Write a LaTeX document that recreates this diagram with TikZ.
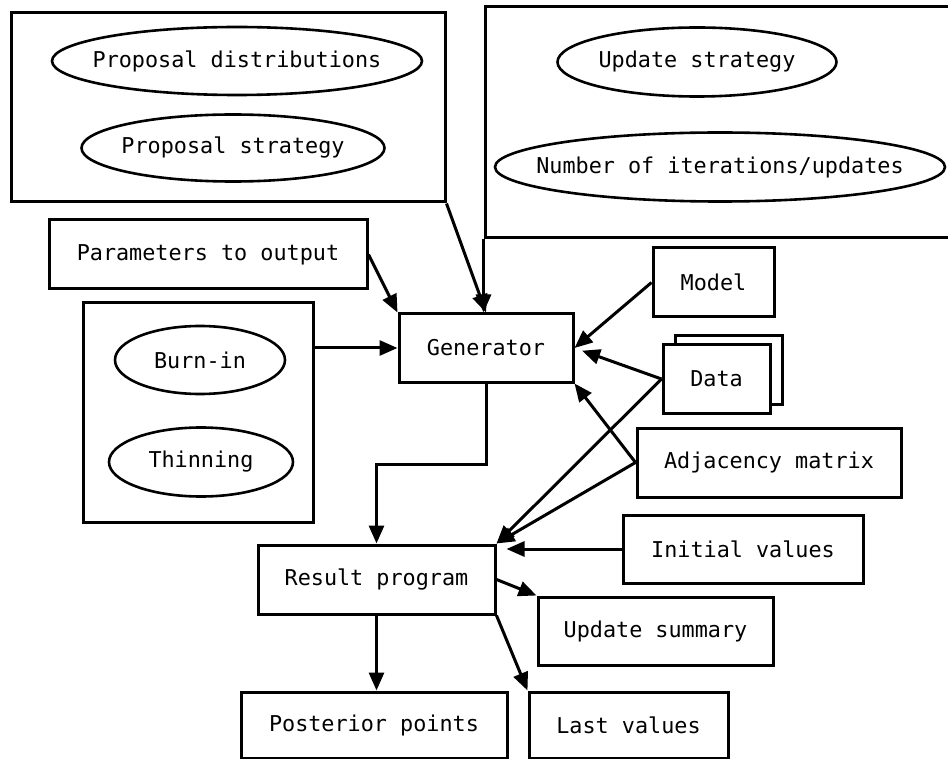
\documentclass[tikz,border=0pt]{standalone}
\usepackage{fontspec}
\setmonofont{DejaVu Sans Mono}
\usetikzlibrary{shapes.geometric,arrows.meta}

\tikzset{
  lbl/.style={font=\ttfamily\fontsize{21.8}{26}\selectfont},
  box/.style={lbl, draw, line width=3pt, rectangle, inner sep=0pt, fill=white},
  grp/.style={draw, line width=3pt, rectangle, inner sep=0pt},
  oval/.style={draw, line width=2.6pt, ellipse, inner sep=0pt},
  ovaltext/.style={label={[lbl, inner sep=0pt]center:#1}},
  arr/.style={line width=3pt, -{Triangle[length=18pt,width=15pt]}},
}

\begin{document}
\begin{tikzpicture}[x=1pt, y=-1pt]
\useasboundingbox (0,0) rectangle (948,759);

% proposal group
\node[grp, minimum width=434pt, minimum height=189pt] (propgrp) at (228,107.5) {};
\node[oval, minimum width=370pt, minimum height=68pt, ovaltext={Proposal distributions}] (propdist) at (237,61) {};
\node[oval, minimum width=303pt, minimum height=67pt, ovaltext={Proposal strategy}] (propstrat) at (233,148) {};

% update group (runs past the right edge)
\node[grp, minimum width=483pt, minimum height=231pt] (updgrp) at (726.5,122.5) {};
\node[oval, minimum width=279pt, minimum height=69pt, ovaltext={Update strategy}] (updstrat) at (697,62) {};
\node[oval, minimum width=450pt, minimum height=69pt, ovaltext={Number of iterations/updates}] (niter) at (720,167) {};

% output parameters
\node[box, minimum width=318pt, minimum height=69pt] (params) at (208,254.5) {Parameters to output};

% burn-in / thinning group
\node[grp, minimum width=230pt, minimum height=219pt] (burngrp) at (198,412.5) {};
\node[oval, minimum width=170pt, minimum height=68pt, ovaltext={Burn-in}] (burnin) at (200,360) {};
\node[oval, minimum width=184pt, minimum height=69pt, ovaltext={Thinning}] (thin) at (201,462) {};

% generator and its inputs
\node[box, minimum width=174pt, minimum height=68pt] (gen) at (486,348) {Generator};
\node[box, minimum width=121pt, minimum height=69pt] (model) at (713.5,282.5) {Model};
\node[box, minimum width=107pt, minimum height=68pt] (databack) at (728.5,370) {};
\node[box, minimum width=107pt, minimum height=68pt] (data) at (716.5,379) {Data};
\node[box, minimum width=264pt, minimum height=69pt] (adj) at (769,462.5) {Adjacency matrix};
\node[box, minimum width=240pt, minimum height=68pt] (init) at (743,549) {Initial values};

% result program and outputs
\node[box, minimum width=237pt, minimum height=69pt] (res) at (376.5,579.5) {Result program};
\node[box, minimum width=235pt, minimum height=68pt] (updsum) at (655.5,631) {Update summary};
\node[box, minimum width=266pt, minimum height=66pt] (post) at (374,725) {Posterior points};
\node[box, minimum width=199pt, minimum height=66pt] (last) at (628.5,725) {Last values};

\coordinate (updcorner) at (updgrp.south west);
\coordinate (bend) at (0,464);

% connectors into the generator
\draw[arr] (propgrp.south east) -- (gen.north);
\draw[arr] (updcorner) -- (updcorner |- gen.north);
\draw[arr] (params.east) -- (gen.north west);
\draw[arr] (burngrp.east |- gen.west) -- (gen.west);
\draw[arr] (model.west) -- (gen.east);
\draw[arr, shorten >=8pt] (data.west) -- (gen.east);
\draw[arr] (adj.west) -- (gen.south east);

% connectors into the result program
\draw[arr] (gen.south) -- (gen.south |- bend) -| (res.north);
\draw[arr] (data.west) -- (res.north east);
\draw[arr] (adj.west) -- (res.north east);
\draw[arr, shorten >=10pt] (init.west) -- (init.west -| res.east);

% outputs
\draw[arr] (res.east) -- (updsum.north west);
\draw[arr] (res.south east) -- (last.north west);
\draw[arr] (res.south) -- (res.south |- post.north);
\end{tikzpicture}
\end{document}
